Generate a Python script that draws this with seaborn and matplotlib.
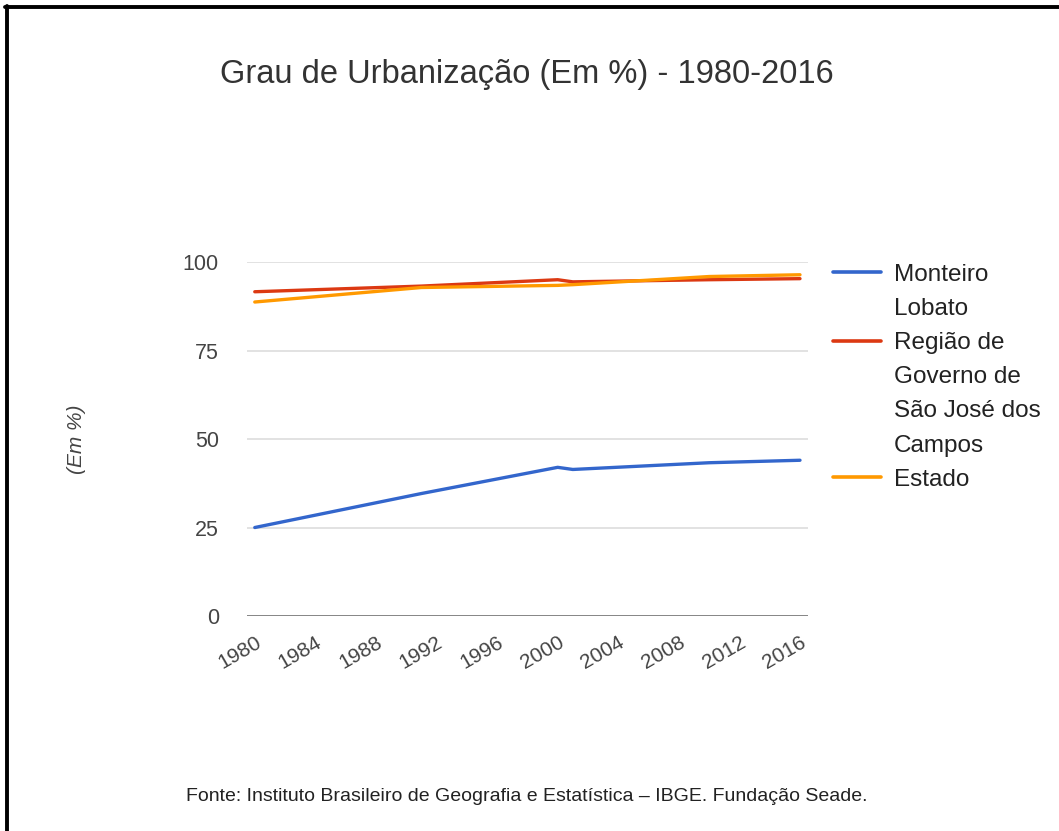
import pandas as pd
import matplotlib
matplotlib.use("Agg")
import matplotlib.pyplot as plt
from matplotlib.lines import Line2D
import seaborn as sns

# Values
years = [1980, 1991, 2000, 2001, 2010, 2016]
monteiro_lobato = [25.0, 34.6, 42.0, 41.4, 43.3, 44.0]
regiao_sjc = [91.6, 93.2, 95.0, 94.4, 95.0, 95.3]
estado = [88.7, 92.8, 93.4, 93.6, 95.9, 96.4]

series_names = ["Monteiro Lobato", "Região de Governo de São José dos Campos", "Estado"]
legend_lines = [["Monteiro", "Lobato"],
                ["Região de", "Governo de", "São José dos", "Campos"],
                ["Estado"]]
colors = ["#3366cc", "#dc3912", "#ff9900"]
x_ticks = list(range(1980, 2017, 4))
y_ticks = [0, 25, 50, 75, 100]

df = pd.DataFrame({
    "ano": years * 3,
    "valor": monteiro_lobato + regiao_sjc + estado,
    "serie": [series_names[0]] * len(years)
    + [series_names[1]] * len(years)
    + [series_names[2]] * len(years),
})

sns.set_style("white")
plt.rcParams["font.family"] = ["Liberation Sans", "DejaVu Sans"]

fig = plt.figure(figsize=(10.59, 8.31), dpi=100)
ax = fig.add_axes([0.233, 0.2587, 0.530, 0.426])

sns.lineplot(data=df, x="ano", y="valor", hue="serie", palette=colors,
             linewidth=2.4, ax=ax, legend=False)

ax.set_xlim(1979.47, 2016.53)
ax.set_ylim(0, 100)
ax.set_yticks(y_ticks)
ax.set_xticks(x_ticks)
ax.set_yticklabels([str(v) for v in y_ticks], fontsize=15.5, color="#444444")
ax.set_xticklabels([str(v) for v in x_ticks], fontsize=15, color="#444444",
                   rotation=30, ha="right", rotation_mode="anchor")
ax.tick_params(axis="both", length=0)
ax.tick_params(axis="y", pad=20)
ax.tick_params(axis="x", pad=12)
ax.grid(axis="y", color="#dddddd", linewidth=1.2)
ax.axhline(0, color="#777777", linewidth=1.2, zorder=1)
for s in ax.spines.values():
    s.set_visible(False)
ax.set_xlabel("")
ax.set_ylabel("(Em %)", fontsize=15, style="italic", color="#444444", labelpad=70)

# legend: one row per text line, handle only on the first line of each series
handles, labels = [], []
for color, lines in zip(colors, legend_lines):
    for i, txt in enumerate(lines):
        handles.append(Line2D([], [], color=color if i == 0 else "none", linewidth=2.6))
        labels.append(txt)
fig.legend(handles, labels, loc="upper left", bbox_to_anchor=(0.7656, 0.709),
           frameon=False, fontsize=17.5, handlelength=2.0, handletextpad=0.53,
           labelspacing=0.5, labelcolor="#222222")

fig.text(0.4976, 0.91, "Grau de Urbanização (Em %) - 1980-2016", ha="center",
         va="center", fontsize=23.5, color="#333333")
fig.text(0.4976, 0.041, "Fonte: Instituto Brasileiro de Geografia e Estatística – IBGE. Fundação Seade.",
         ha="center", va="center", fontsize=14, color="#222222")

# black frame on top and left
fig.add_artist(Line2D([0.005, 1.0], [0.991, 0.991], color="black", linewidth=2.8,
                      transform=fig.transFigure))
fig.add_artist(Line2D([0.007, 0.007], [0.0, 0.993], color="black", linewidth=2.8,
                      transform=fig.transFigure))

fig.savefig("out.png", dpi=100)
